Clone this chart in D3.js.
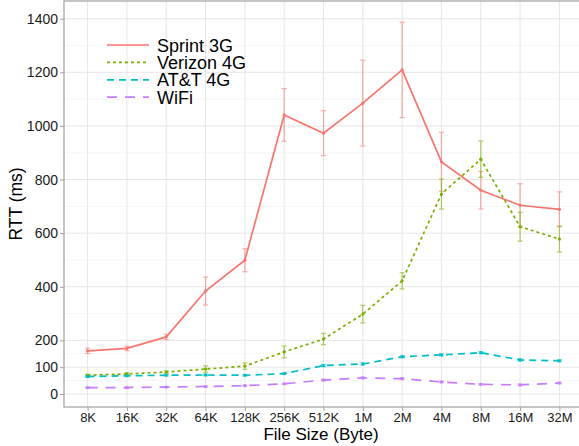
<!DOCTYPE html>
<html><head><meta charset="utf-8">
<script src="https://cdn.jsdelivr.net/npm/d3@7"></script>
<style>body{margin:0;background:#fff}svg{display:block;font-family:"Liberation Sans",Arial,sans-serif}</style>
</head><body>
<svg id="c" width="579" height="446"></svg>
<script>
const categories = ["8K","16K","32K","64K","128K","256K","512K","1M","2M","4M","8M","16M","32M"];
const seriesNames = ["Sprint 3G","Verizon 4G","AT&T 4G","WiFi"];
const sprint    = [161,170,213,384,499,1041,973,1085,1209,866,760,704,689];
const sprintErr = [10,8,10,52,43,98,84,160,178,110,70,80,65];
const verizon    = [70,75,82,93,104,157,205,298,422,746,876,624,578];
const verizonErr = [4,4,5,12,12,22,21,33,30,56,68,54,48];
const att    = [65,68,70,71,70,76,106,112,139,146,154,127,124];
const attErr = [3,3,3,3,3,3,4,4,4,4,4,4,4];
const wifi    = [24,24,26,28,31,38,52,60,57,45,36,34,41];
const wifiErr = [2,2,2,2,2,2,3,3,3,3,3,3,3];
const yTicks = [0,100,200,400,600,800,1000,1200,1400];
const yMinor = [50,150,300,500,700,900,1100,1300];

const colors = ["#F8766D","#7CAE00","#00BFC4","#C77CFF"];
const dashes = [null,"3,3","7,5","10,8"];
const series = [
  {name:seriesNames[0], v:sprint, e:sprintErr},
  {name:seriesNames[1], v:verizon, e:verizonErr},
  {name:seriesNames[2], v:att, e:attErr},
  {name:seriesNames[3], v:wifi, e:wifiErr}
];

const svg = d3.select("#c");
const L=64, R=583, T=1, B=407;
const x = d3.scalePoint().domain(categories).range([L,R]).padding(0.6);
const y = d3.scaleLinear().domain([-48.5,1466]).range([B,T]);

// gridlines
const g = svg.append("g");
g.selectAll(".mn").data(yMinor).join("line")
  .attr("x1",L).attr("x2",R).attr("y1",d=>y(d)).attr("y2",d=>y(d))
  .attr("stroke","#f4f4f4").attr("stroke-width",0.8);
g.selectAll(".mj").data(yTicks).join("line")
  .attr("x1",L).attr("x2",R).attr("y1",d=>y(d)).attr("y2",d=>y(d))
  .attr("stroke","#e6e6e6").attr("stroke-width",1);
g.selectAll(".vx").data(categories).join("line")
  .attr("x1",d=>x(d)).attr("x2",d=>x(d)).attr("y1",T).attr("y2",B)
  .attr("stroke","#e6e6e6").attr("stroke-width",1);

// panel border
svg.append("rect").attr("x",L).attr("y",T).attr("width",R-L).attr("height",B-T)
  .attr("fill","none").attr("stroke","#a0a0a0").attr("stroke-width",1.2);

// axes
const yAxis = d3.axisLeft(y).tickValues(yTicks).tickFormat(d3.format("d")).tickSize(4).tickPadding(2);
const ya = svg.append("g").attr("transform",`translate(${L},0)`).call(yAxis);
const xAxis = d3.axisBottom(x).tickSize(4).tickPadding(2);
const xa = svg.append("g").attr("transform",`translate(0,${B})`).call(xAxis);
[ya,xa].forEach(a=>{
  a.select(".domain").remove();
  a.selectAll(".tick line").attr("stroke","#a0a0a0");
  a.selectAll(".tick text").attr("fill","#1a1a1a");
});
ya.selectAll(".tick text").style("font-size","14px");
xa.selectAll(".tick text").style("font-size","13px");

// lines
const line = d3.line().x((d,i)=>x(categories[i])).y(d=>y(d));
series.forEach((s,k)=>{
  svg.append("path").datum(s.v).attr("d",line).attr("fill","none")
    .attr("stroke",colors[k]).attr("stroke-width",1.7)
    .attr("stroke-dasharray",dashes[k]);
});
// error bars and points
series.forEach((s,k)=>{
  const eg = svg.append("g").attr("stroke",colors[k]).attr("stroke-width",1.2).attr("opacity",0.6);
  s.v.forEach((v,i)=>{
    const cx = x(categories[i]);
    eg.append("line").attr("x1",cx).attr("x2",cx).attr("y1",y(v-s.e[i])).attr("y2",y(v+s.e[i]));
    eg.append("line").attr("x1",cx-2.5).attr("x2",cx+2.5).attr("y1",y(v-s.e[i])).attr("y2",y(v-s.e[i]));
    eg.append("line").attr("x1",cx-2.5).attr("x2",cx+2.5).attr("y1",y(v+s.e[i])).attr("y2",y(v+s.e[i]));
  });
  svg.append("g").selectAll("circle").data(s.v).join("circle")
    .attr("cx",(d,i)=>x(categories[i])).attr("cy",d=>y(d)).attr("r",1.6).attr("fill",colors[k]);
});

// axis titles
svg.append("text").attr("x",321).attr("y",440).attr("text-anchor","middle")
  .attr("fill","#000").style("font-size","17px").text("File Size (Byte)");
svg.append("text").attr("transform",`translate(22,${(T+B)/2}) rotate(-90)`).attr("text-anchor","middle")
  .attr("fill","#000").style("font-size","17.5px").text("RTT (ms)");

// legend
const lg = svg.append("g");
series.forEach((s,k)=>{
  const ry = 45 + k*17.4;
  lg.append("line").attr("x1",107).attr("x2",149).attr("y1",ry).attr("y2",ry)
    .attr("stroke",colors[k]).attr("stroke-width",1.7).attr("stroke-dasharray",dashes[k]);
  lg.append("text").attr("x",157).attr("y",ry+6.5).attr("fill","#000")
    .style("font-size","18px").text(s.name);
});
</script>
</body></html>
